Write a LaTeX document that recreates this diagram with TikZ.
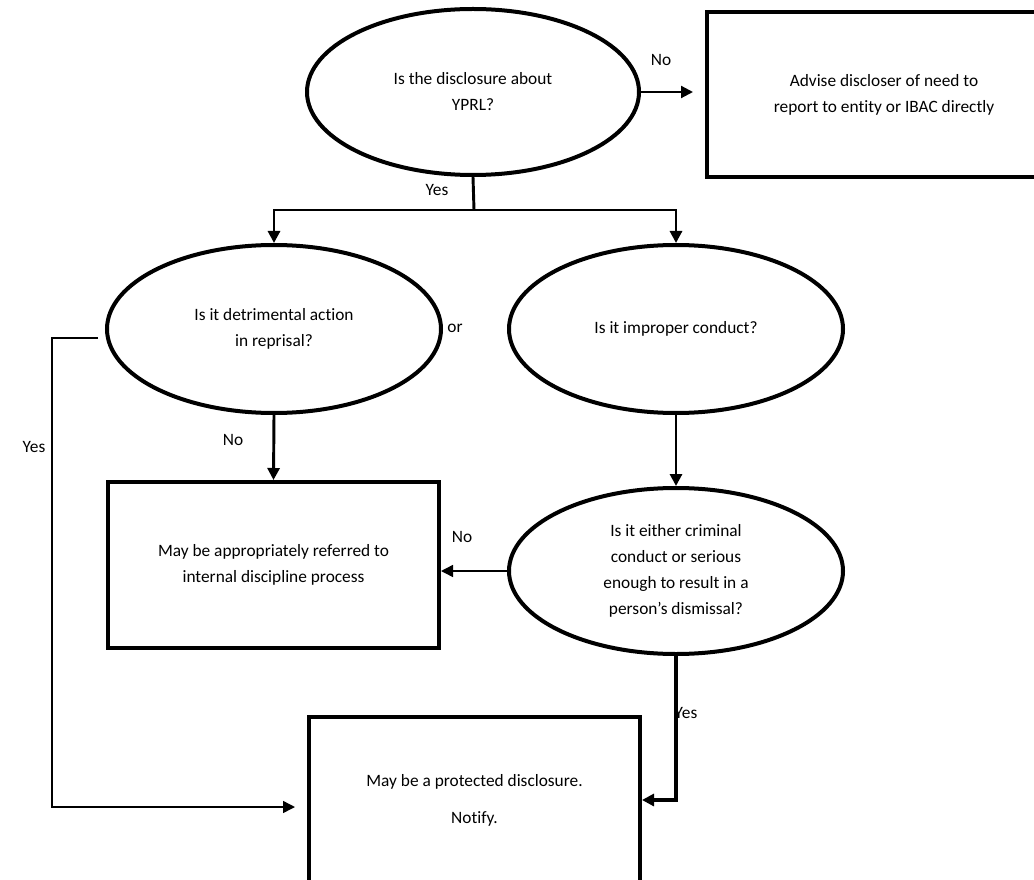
\documentclass[tikz,border=0pt]{standalone}
\usepackage{fontspec}
\setmainfont{Carlito}[Ligatures={ResetAll,NoCommon}]
\usetikzlibrary{shapes.geometric,arrows.meta}
\begin{document}
\begin{tikzpicture}[x=0.75pt,y=-0.75pt,
  every node/.style={font=\fontsize{13}{19.5}\selectfont},
  dec/.style={ellipse,draw,line width=3pt,inner sep=0pt,align=center},
  box/.style={rectangle,draw,line width=3pt,inner sep=0pt,align=center},
  lbl/.style={inner sep=0pt},
  arr/.style={-{Triangle[length=9pt,width=9pt]}},
  thin/.style={line width=1.1pt},
  mid/.style={line width=1.6pt},
  med/.style={line width=2.2pt},
  thick/.style={line width=3pt}]
\useasboundingbox (0,0) rectangle (1034,880);

% nodes
\node[dec,minimum width=249pt,minimum height=124.5pt] (top) at (473,92) {Is the disclosure about\\YPRL?};
\node[box,minimum width=265.5pt,minimum height=123.75pt] (adv) at (884,94.5) {Advise discloser of need to\\report to entity or IBAC directly};
\node[dec,minimum width=250.5pt,minimum height=126pt] (det) at (274,329) {Is it detrimental action\\in reprisal?};
\node[dec,minimum width=250.5pt,minimum height=126pt] (imp) at (676,329) {Is it improper conduct?};
\node[box,minimum width=248.25pt,minimum height=124.5pt] (lbox) at (273.5,565) {May be appropriately referred to\\internal discipline process};
\node[dec,minimum width=250.5pt,minimum height=124.5pt] (crim) at (676,571) {Is it either criminal\\conduct or serious\\enough to result in a\\person's dismissal?};
\node[box,minimum width=248.25pt,minimum height=124.5pt] (pbox) at (474.5,800) {May be a protected disclosure.\\[8.25pt]Notify.};

% labels
\node[lbl] (lno1) at (661,60) {No};
\node[lbl] (lyes1) at (437,190) {Yes};
\node[lbl] (lor) at (455,328) {or};
\node[lbl] (lno2) at (233,440) {No};
\node[lbl] (lno3) at (462,537) {No};
\node[lbl] (lyes2) at (34,447) {Yes};
\node[lbl] (lyes3) at (686,713) {Yes};

% connectors
\draw[mid,arr,shorten >=9pt] (top.east) -- (top.east -| adv.west);
\coordinate (j1) at (474,210);
\draw[med] (top.south) -- (j1);
\draw[med,arr] (j1) -| (det.north);
\draw[med,arr] (j1) -| (imp.north);
\draw[med,arr] (det.south) -- (lbox.north);
\draw[med,arr] (imp.south) -- (crim.north);
\draw[thin,arr] (crim.west) -- (crim.west -| lbox.east);
\draw[thick,arr] (crim.south) |- (pbox.east);
\coordinate (ys) at (98,338);
\coordinate (yc) at (52,807);
\coordinate (ye) at (295,807);
\draw[thin,arr] (ys) -| (yc) -- (ye);
\end{tikzpicture}
\end{document}
